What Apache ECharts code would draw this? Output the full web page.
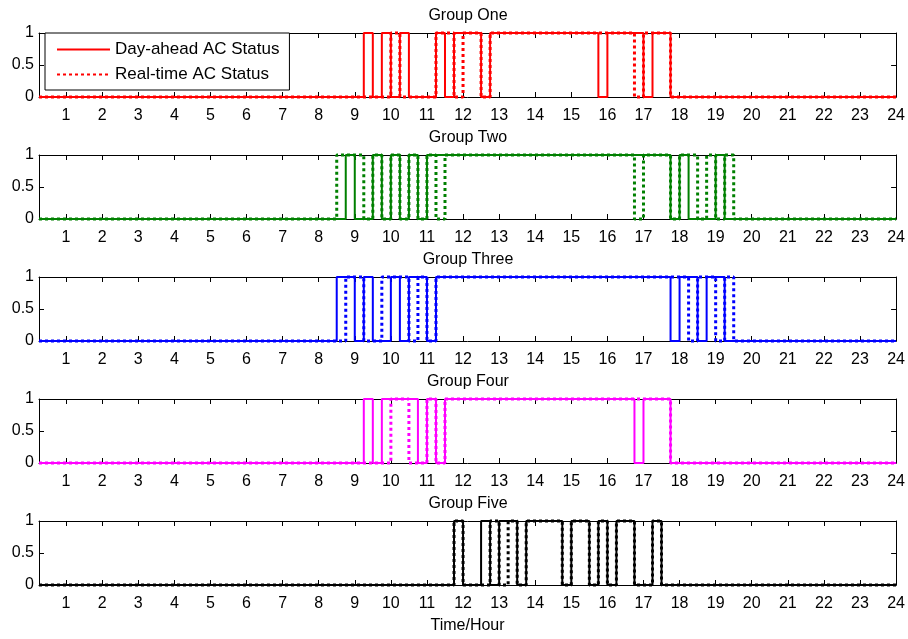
<!DOCTYPE html>
<html>
<head>
<meta charset="utf-8">
<script src="https://cdn.jsdelivr.net/npm/echarts@6/dist/echarts.min.js"></script>
<style>
    html, body { margin: 0; padding: 0; background: #fff; }
    #div-chart { width: 908px; height: 639px; }
</style>
</head>
<body>
<div id="div-chart"></div>
<script>
var hours = [1,2,3,4,5,6,7,8,9,10,11,12,13,14,15,16,17,18,19,20,21,22,23,24];
var groupNames = ['Group One', 'Group Two', 'Group Three', 'Group Four', 'Group Five'];
var legendNames = ['Day-ahead AC Status', 'Real-time AC Status'];

// periods (hour) when the AC is on
var dayAheadOne = [[9.25,9.5],[9.75,10],[10.25,10.5],[11.25,11.5],[11.75,12.5],[12.75,15.75],[16,17],[17.25,17.75]];
var realTimeOne = [[10,10.25],[11.25,11.75],[12,12.5],[12.75,16.75],[17,17.75]];
var dayAheadTwo = [[8.75,9],[9.5,9.75],[10,10.25],[10.5,10.75],[11,17.75],[18,18.25],[19,19.25]];
var realTimeTwo = [[8.5,9.25],[9.5,9.75],[10,10.25],[10.5,10.75],[11,11.25],[11.5,16.75],[17,17.75],[18,18.5],[18.75,19],[19.25,19.5]];
var dayAheadThree = [[8.5,9],[9.25,9.5],[10,10.25],[10.5,11],[11.25,17.75],[18,18.5],[18.75,19.25]];
var realTimeThree = [[8.75,9.25],[9.75,10.5],[10.75,11],[11.25,18.25],[18.5,19],[19.25,19.5]];
var dayAheadFour = [[9.25,9.5],[9.75,10.75],[11,11.25],[11.5,16.75],[17,17.75]];
var realTimeFour = [[10,10.5],[11,11.25],[11.5,17.75]];
var dayAheadFive = [[11.75,12],[12.5,12.75],[13,13.5],[13.75,14.75],[15,15.5],[15.75,16],[16.25,16.75],[17.25,17.5]];
var realTimeFive = [[11.75,12],[12.75,13],[13.25,13.5],[13.75,14.75],[15,15.5],[15.75,16],[16.25,16.75],[17.25,17.5]];

var dayAhead = [dayAheadOne, dayAheadTwo, dayAheadThree, dayAheadFour, dayAheadFive];
var realTime = [realTimeOne, realTimeTwo, realTimeThree, realTimeFour, realTimeFive];
var colors = ['#ff0000', '#008000', '#0000ff', '#ff00ff', '#000000'];

var font = 'Liberation Sans, Arial, sans-serif';

function steps(onList) {
    var pts = [[0.25, 0]];
    onList.forEach(function (p) {
        pts.push([p[0], 1], [p[1], 0]);
    });
    pts.push([24, 0]);
    return pts;
}

var myChart = echarts.init(document.getElementById('div-chart'));

var grids = [], xAxes = [], yAxes = [], titles = [], series = [];

for (var i = 0; i < 5; i++) {
    var panelTop = 33 + i * 122;
    grids.push({left: 39, right: 11, top: panelTop, height: 64});
    titles.push({
        text: groupNames[i], left: 468, top: panelTop - 25, textAlign: 'center', padding: 0,
        textStyle: {fontSize: 16, fontWeight: 'normal', color: '#000', fontFamily: font}
    });
    // bottom and top x axes, both with ticks pointing in
    xAxes.push({
        gridIndex: i, type: 'value', min: 0.25, max: 24, position: 'bottom',
        axisLine: {onZero: false, lineStyle: {color: '#000', width: 1}},
        axisTick: {inside: true, length: 5, customValues: hours, lineStyle: {color: '#000'}},
        axisLabel: {customValues: hours, color: '#000', fontSize: 16, fontFamily: font, margin: 11},
        splitLine: {show: false},
        name: i === 4 ? 'Time/Hour' : '', nameLocation: 'middle', nameGap: 33,
        nameTextStyle: {color: '#000', fontSize: 16, fontFamily: font}
    });
    xAxes.push({
        gridIndex: i, type: 'value', min: 0.25, max: 24, position: 'top',
        axisLine: {onZero: false, lineStyle: {color: '#000', width: 1}},
        axisTick: {inside: true, length: 5, customValues: hours, lineStyle: {color: '#000'}},
        axisLabel: {show: false},
        splitLine: {show: false}
    });
    yAxes.push({
        gridIndex: i, type: 'value', min: 0, max: 1, interval: 0.5, position: 'left',
        axisLine: {show: true, onZero: false, lineStyle: {color: '#000', width: 1}},
        axisTick: {show: true, inside: true, length: 5, lineStyle: {color: '#000'}},
        axisLabel: {color: '#000', fontSize: 16, fontFamily: font, margin: 5},
        splitLine: {show: false}
    });
    yAxes.push({
        gridIndex: i, type: 'value', min: 0, max: 1, interval: 0.5, position: 'right',
        axisLine: {show: true, onZero: false, lineStyle: {color: '#000', width: 1}},
        axisTick: {show: true, inside: true, length: 5, lineStyle: {color: '#000'}},
        axisLabel: {show: false},
        splitLine: {show: false}
    });
    series.push({
        name: i === 0 ? legendNames[0] : groupNames[i] + ' day-ahead',
        type: 'line', xAxisIndex: i * 2, yAxisIndex: i * 2,
        data: steps(dayAhead[i]), step: 'end', symbol: 'none', clip: false,
        color: colors[i],
        lineStyle: {color: colors[i], width: 2, type: 'solid'},
        z: 3, animation: false
    });
    series.push({
        name: i === 0 ? legendNames[1] : groupNames[i] + ' real-time',
        type: 'line', xAxisIndex: i * 2, yAxisIndex: i * 2,
        data: steps(realTime[i]), step: 'end', symbol: 'none', clip: false,
        color: colors[i],
        lineStyle: {color: colors[i], width: 3, type: [3, 3]},
        z: 4, animation: false
    });
}

option = {
    backgroundColor: '#fff',
    animation: false,
    title: titles,
    legend: {
        data: legendNames,
        orient: 'vertical', left: 45, top: 33,
        backgroundColor: '#fff', borderColor: '#000', borderWidth: 1, borderRadius: 0,
        padding: [8, 10, 7, 11], itemGap: 8, itemWidth: 53, itemHeight: 14,
        itemStyle: {opacity: 0},
        textStyle: {color: '#000', fontSize: 17, fontFamily: font},
        z: 10
    },
    grid: grids,
    xAxis: xAxes,
    yAxis: yAxes,
    series: series
};

myChart.setOption(option);
</script>
</body>
</html>
